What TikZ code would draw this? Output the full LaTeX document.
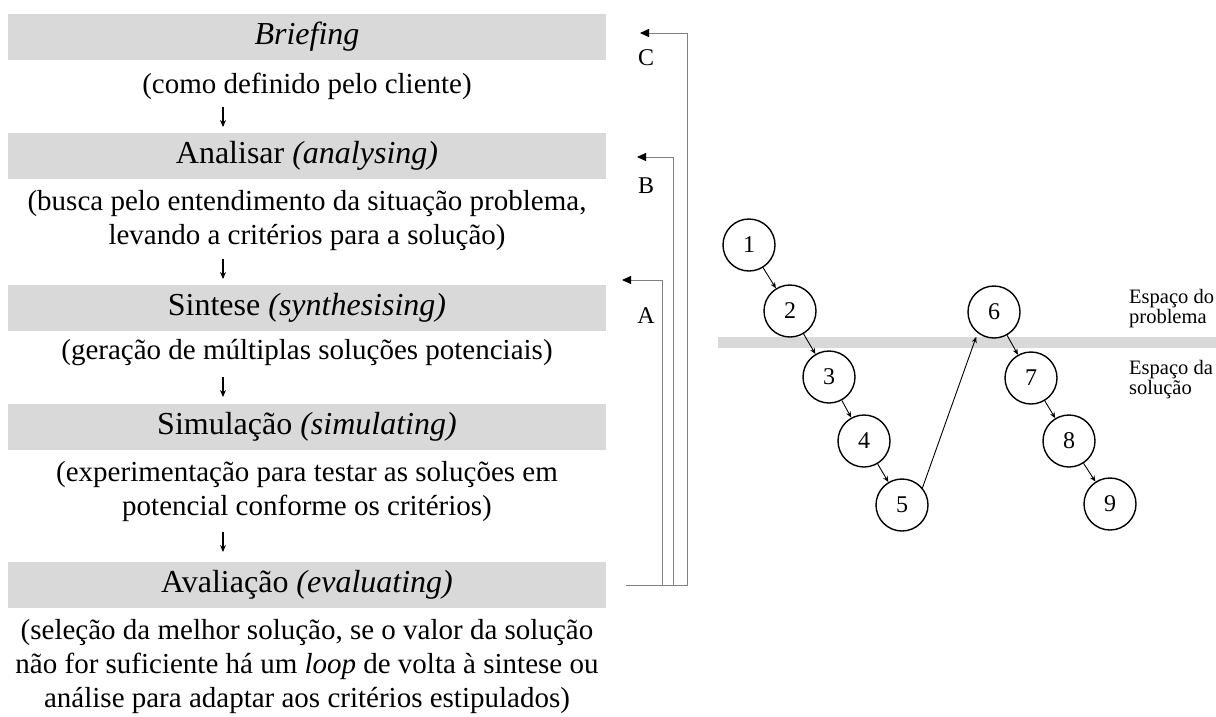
\documentclass[tikz,border=0pt]{standalone}
\usepackage{fontspec}
\setmainfont{Liberation Serif}
\usetikzlibrary{arrows.meta}
\definecolor{barfill}{HTML}{D9D9D9}
\definecolor{loopgray}{HTML}{808080}
\tikzset{
  bar/.style={fill=barfill, minimum width=598pt, minimum height=46pt, inner sep=0pt,
              font=\fontsize{32}{36}\selectfont},
  desc/.style={align=center, inner sep=0pt, font=\fontsize{29}{34}\selectfont},
  flowarrow/.style={line width=1.2pt, -{Stealth[length=7pt,width=6pt]}},
  loopline/.style={draw=loopgray, line width=0.9pt, -{Triangle[length=9pt,width=8pt,color=black]}},
  looplabel/.style={inner sep=0pt, font=\fontsize{24}{26}\selectfont},
  stage/.style={circle, draw, fill=white, line width=1.4pt, minimum size=52pt, inner sep=0pt,
                font=\fontsize{24}{26}\selectfont},
  linkarrow/.style={line width=0.9pt, -{Stealth[length=6pt,width=5pt]}},
  spacelabel/.style={align=left, anchor=west, inner sep=0pt, font=\fontsize{20.5}{20}\selectfont},
}
\begin{document}
\begin{tikzpicture}[x=1pt,y=-1pt]
\useasboundingbox (0,0) rectangle (1216,716);

% design process stages
\node[bar] (s1) at (307,37)    {\textit{Briefing}};
\node[desc] (d1) at (307,86)   {(como definido pelo cliente)};
\node[bar] (s2) at (307,155.5) {Analisar \textit{(analysing)}};
\node[desc] (d2) at (307,221)  {(busca pelo entendimento da situação problema,\\levando a critérios para a solução)};
\node[bar] (s3) at (307,307.5) {Sintese \textit{(synthesising)}};
\node[desc] (d3) at (307,353)  {(geração de múltiplas soluções potenciais)};
\node[bar] (s4) at (307,426.5) {Simulação \textit{(simulating)}};
\node[desc] (d4) at (307,492)  {(experimentação para testar as soluções em\\potencial conforme os critérios)};
\node[bar] (s5) at (307,584.5) {Avaliação \textit{(evaluating)}};
\node[desc] (d5) at (307,667)  {(seleção da melhor solução, se o valor da solução\\não for suficiente há um \textit{loop} de volta à sintese ou\\análise para adaptar aos critérios estipulados)};

% downward flow arrows
\coordinate (f1a) at (223,107); \coordinate (f1b) at (223,127);
\coordinate (f2a) at (223,259); \coordinate (f2b) at (223,279);
\coordinate (f3a) at (223,377); \coordinate (f3b) at (223,397);
\coordinate (f4a) at (223,532); \coordinate (f4b) at (223,552);
\draw[flowarrow] (f1a) -- (f1b);
\draw[flowarrow] (f2a) -- (f2b);
\draw[flowarrow] (f3a) -- (f3b);
\draw[flowarrow] (f4a) -- (f4b);

% feedback loops
\coordinate (loopbase) at (626,585);
\coordinate (railC) at (687,33);  \coordinate (tipC) at (640,33);
\coordinate (railB) at (673,157); \coordinate (tipB) at (637,157);
\coordinate (railA) at (662,280); \coordinate (tipA) at (622,280);
\draw[loopline] (loopbase) -| (railC) -- (tipC);
\draw[loopline] (loopbase) -| (railB) -- (tipB);
\draw[loopline] (loopbase) -| (railA) -- (tipA);
\node[looplabel] (lC) at (646,58)  {C};
\node[looplabel] (lB) at (646,186) {B};
\node[looplabel] (lA) at (646,316) {A};

% problem / solution spaces
\fill[barfill] (718,337) rectangle (1230,348);
\node[spacelabel] (ep) at (1129,309) {Espaço do\\problema};
\node[spacelabel] (es) at (1129,380) {Espaço da\\solução};

\node[stage] (n1) at (749,245) {1};
\node[stage] (n2) at (790,311) {2};
\node[stage] (n3) at (829,377) {3};
\node[stage] (n4) at (864,441) {4};
\node[stage] (n5) at (902,505) {5};
\node[stage] (n6) at (994,312) {6};
\node[stage] (n7) at (1031,378) {7};
\node[stage] (n8) at (1069,441) {8};
\node[stage] (n9) at (1110,504) {9};

\draw[linkarrow] (n1) -- (n2);
\draw[linkarrow] (n2) -- (n3);
\draw[linkarrow] (n3) -- (n4);
\draw[linkarrow] (n4) -- (n5);
\draw[linkarrow, shorten >=4pt] (n5.40) -- (n6.232);
\draw[linkarrow] (n6) -- (n7);
\draw[linkarrow] (n7) -- (n8);
\draw[linkarrow] (n8) -- (n9);
\end{tikzpicture}
\end{document}
